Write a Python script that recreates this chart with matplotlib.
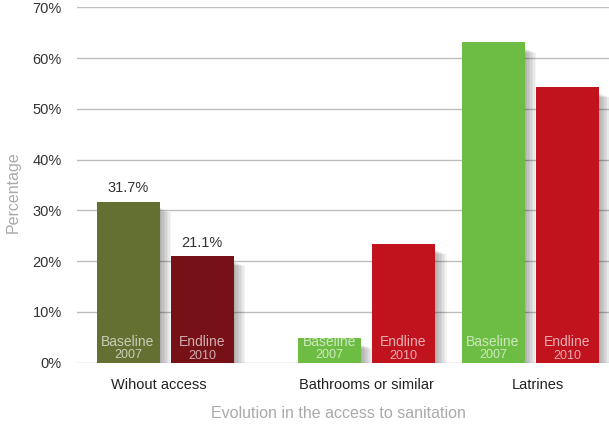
import matplotlib.pyplot as plt
import matplotlib.transforms as mtransforms
from matplotlib.patches import Rectangle
import numpy as np

plt.rcParams['font.family'] = ['Liberation Sans', 'DejaVu Sans']

# data
categories = ["Wihout access", "Bathrooms or similar", "Latrines"]
baseline_2007 = [31.7, 4.8, 63.1]
endline_2010 = [21.1, 23.4, 54.3]
value_labels = ["31.7%", "21.1%"]  # only shown on first group
yticks = [0, 10, 20, 30, 40, 50, 60, 70]

# layout (x axis in pixel-like units)
group_x = np.array([165, 366.5, 530])
label_shift = [-6, 0, 8]  # px nudge of category labels
offset = 37
bar_w = 63
base_colors = ["#637032", "#6dbd44", "#6dbd44"]
end_colors = ["#771118", "#c1131d", "#c1131d"]

fig = plt.figure(figsize=(6.09, 4.26), dpi=100)
ax = fig.add_axes([77 / 609, (426 - 362.7) / 426, (609 - 77) / 609, (362.7 - 7.3) / 426])
ax.set_xlim(77, 609)
ax.set_ylim(0, 70)

for s in ax.spines.values():
    s.set_visible(False)
ax.set_yticks(yticks)
ax.set_yticklabels([f"{t}%" for t in yticks], fontsize=10.5, color="#333333")
ax.tick_params(axis="y", length=0, pad=11)
ax.tick_params(axis="x", length=0)
ax.yaxis.grid(True, color="#bdbdbd", linewidth=1.0)
ax.set_axisbelow(True)

ax.set_xticks(group_x)
ax.set_xticklabels(categories, fontsize=10.5, color="#222222")
ax.tick_params(axis="x", pad=11)
for lbl, dx in zip(ax.get_xticklabels(), label_shift):
    lbl.set_transform(lbl.get_transform() + mtransforms.ScaledTranslation(dx / 100, 0, fig.dpi_scale_trans))

# soft drop shadows
def shadow(x, h):
    for k in range(8):
        ax.add_patch(Rectangle((x + 1 + k * 0.9, -1.5 - k * 0.12), bar_w + k * 0.6, h + 0.3,
                               facecolor="black", alpha=0.045, lw=0, zorder=1.5))

for i in range(3):
    xb = group_x[i] - offset - bar_w / 2
    xe = group_x[i] + offset - bar_w / 2
    shadow(xb, baseline_2007[i])
    shadow(xe, endline_2010[i])

bars_b = ax.bar(group_x - offset, baseline_2007, width=bar_w, color=base_colors, zorder=3)
bars_e = ax.bar(group_x + offset, endline_2010, width=bar_w, color=end_colors, zorder=3)

for i in range(3):
    xb = group_x[i] - offset
    xe = group_x[i] + offset
    ax.text(xb, 4.0, "Baseline", ha="center", va="center", fontsize=10,
            color="white", alpha=0.65, zorder=4)
    ax.text(xb, 1.45, "2007", ha="center", va="center", fontsize=9,
            color="white", alpha=0.65, zorder=4)
    ax.text(xe, 4.0, "Endline", ha="center", va="center", fontsize=10,
            color="white", alpha=0.65, zorder=4)
    ax.text(xe, 1.3, "2010", ha="center", va="center", fontsize=9,
            color="white", alpha=0.65, zorder=4)

ax.text(group_x[0] - offset, baseline_2007[0] + 2.8, value_labels[0], ha="center",
        va="center", fontsize=10.5, color="#333333")
ax.text(group_x[0] + offset, endline_2010[0] + 2.4, value_labels[1], ha="center",
        va="center", fontsize=10.5, color="#333333")

fig.text(13 / 609, 1 - 192 / 426, "Percentage", rotation=90, ha="center", va="center",
         fontsize=11.5, color="#aaaaaa")
fig.text(338 / 609, 1 - 413 / 426, "Evolution in the access to sanitation", ha="center",
         va="center", fontsize=11.5, color="#aaaaaa")

fig.savefig("out.png", dpi=100)
